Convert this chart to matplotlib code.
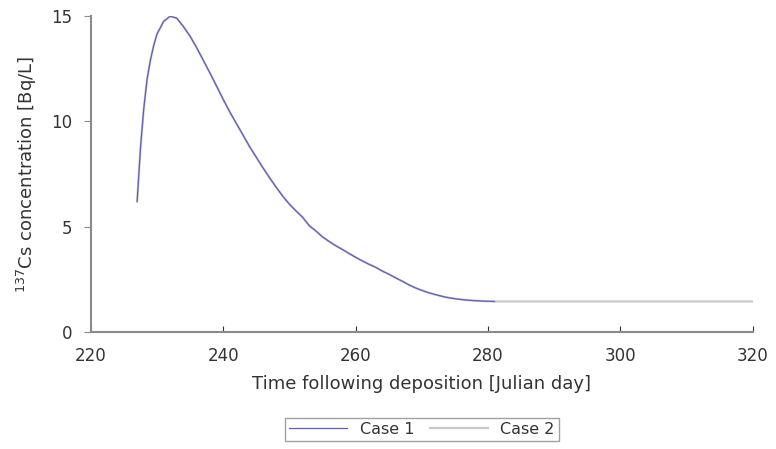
import numpy as np
import matplotlib.pyplot as plt

# Julian days and 137Cs concentration
days1 = [227, 227.5, 228, 228.5, 229, 229.5, 230, 231, 232, 233, 234, 235, 236, 237,
         238, 239, 240, 241, 242, 243, 244, 245, 246, 247, 248, 249, 250, 251,
         252, 253, 254, 255, 256, 257, 258, 259, 260, 261, 262, 263, 264, 265,
         266, 267, 268, 269, 270, 271, 272, 273, 274, 275, 276, 277, 278, 279,
         280, 281]
case1 = [6.2, 8.7, 10.6, 12.0, 12.9, 13.6, 14.15, 14.75, 15.0, 14.9, 14.5, 14.05, 13.5, 12.9,
         12.3, 11.68, 11.05, 10.45, 9.9, 9.35, 8.8, 8.3, 7.8, 7.33, 6.88, 6.45, 6.07, 5.75,
         5.45, 5.05, 4.8, 4.52, 4.3, 4.1, 3.92, 3.73, 3.55, 3.38, 3.22, 3.08, 2.9, 2.75,
         2.58, 2.42, 2.25, 2.1, 1.98, 1.87, 1.78, 1.7, 1.63, 1.58, 1.54, 1.51, 1.49, 1.47,
         1.46, 1.45]
days2 = days1 + [285, 290, 295, 300, 305, 310, 315, 320]
case2 = case1 + [1.45, 1.45, 1.45, 1.45, 1.45, 1.45, 1.45, 1.45]

plt.rcParams['font.family'] = ['DejaVu Sans']
axcol = '#8a8a8a'
txtcol = '#333333'

fig = plt.figure(figsize=(7.76, 4.49), dpi=100)
ax = fig.add_axes([0.117, 0.2606, 0.853, 0.7034])

ax.plot(days2, case2, color='#c8c8c8', linewidth=1.6, label='Case 2', zorder=2)
ax.plot(days1, case1, color='#5f5fc0', linewidth=0.9, label='Case 1', zorder=3)

ax.set_xlim(220, 320)
ax.set_ylim(0, 15)
ax.set_xticks([220, 240, 260, 280, 300, 320])
ax.set_yticks([0, 5, 10, 15])

for s in ['top', 'right']:
    ax.spines[s].set_visible(False)
for s in ['left', 'bottom']:
    ax.spines[s].set_color(axcol)
    ax.spines[s].set_linewidth(1.5)

ax.tick_params(axis='x', direction='in', length=4, color='#333333', pad=11,
               labelsize=12, labelcolor=txtcol)
ax.tick_params(axis='y', direction='out', length=5, color=axcol, pad=8,
               labelsize=12, labelcolor=txtcol)

ax.set_xlabel('Time following deposition [Julian day]', fontsize=13,
              color=txtcol, labelpad=7)
ax.set_ylabel(r'$^{137}$Cs concentration [Bq/L]', fontsize=13,
              color=txtcol, labelpad=9)

h, l = ax.get_legend_handles_labels()
leg = fig.legend(h[::-1], l[::-1], loc='lower center', bbox_to_anchor=(0.544, 0.0),
                 ncol=2, frameon=True, fancybox=False, fontsize=11.5,
                 handlelength=3.6, columnspacing=1.0, borderpad=0.25)
leg.get_frame().set_edgecolor(axcol)
leg.get_frame().set_linewidth(1.0)
for t in leg.get_texts():
    t.set_color(txtcol)

fig.savefig('out.png', dpi=100)
